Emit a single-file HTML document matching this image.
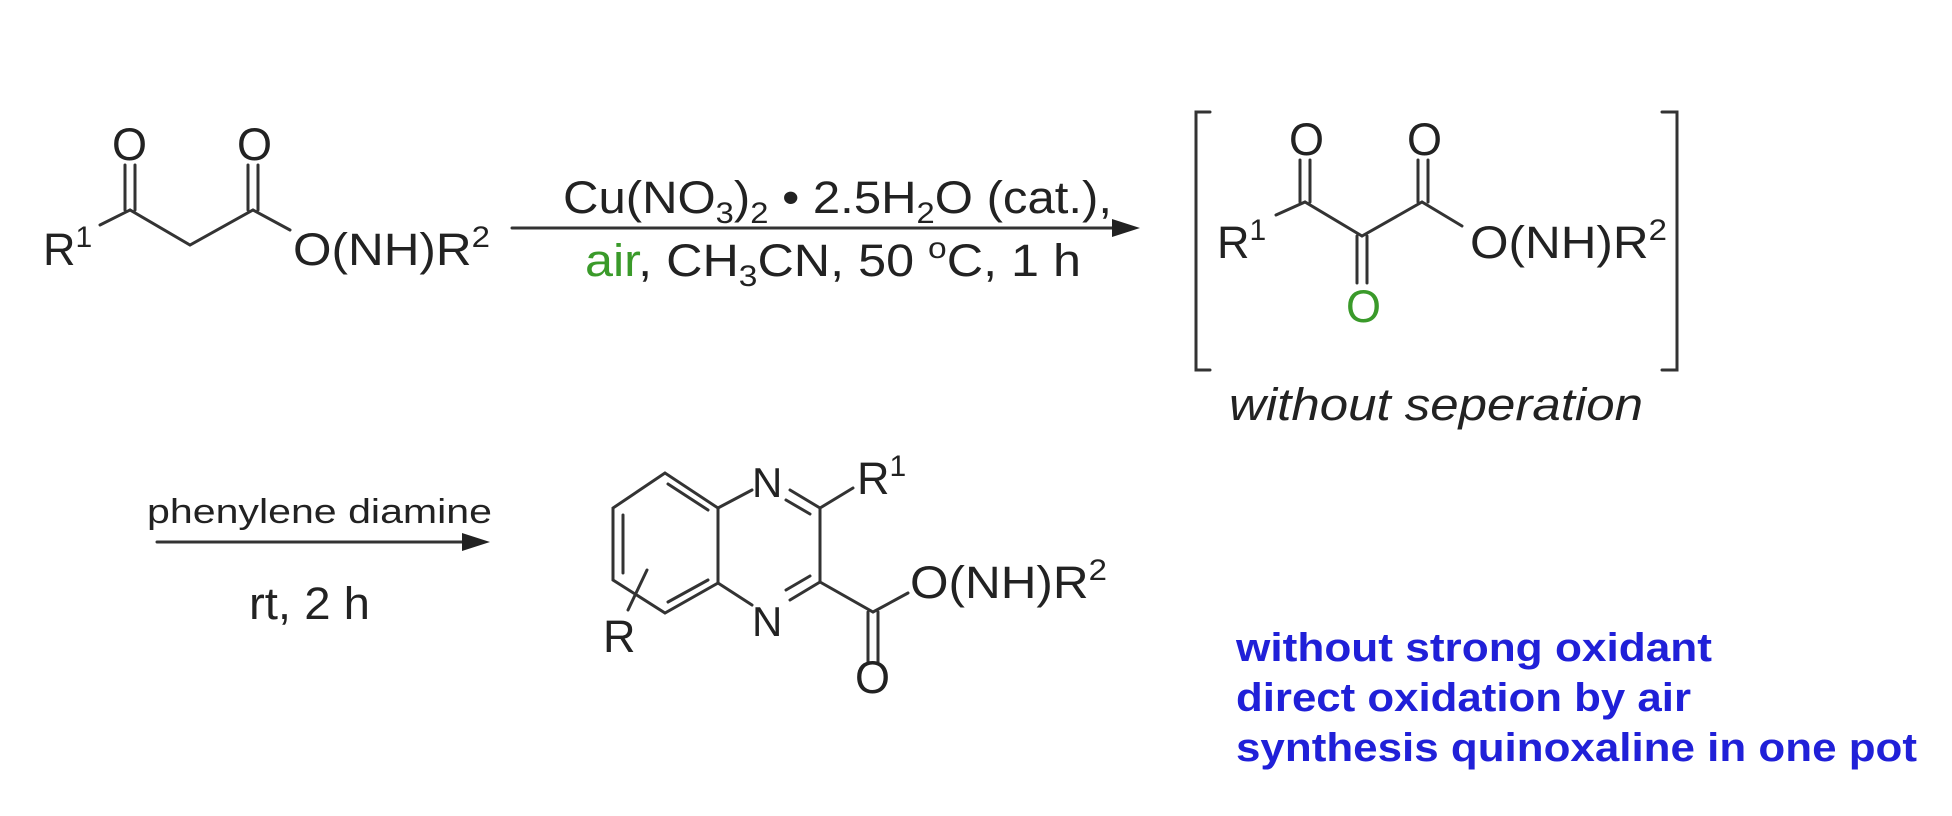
<!DOCTYPE html>
<html><head><meta charset="utf-8"><style>
html,body{margin:0;padding:0;background:#fff;}
svg{display:block;}
text{font-family:"Liberation Sans",Arial,sans-serif;fill:#222;}
</style></head><body>
<svg width="1952" height="816" viewBox="0 0 1952 816" xmlns="http://www.w3.org/2000/svg">
<g stroke="#333" stroke-width="3" fill="none" stroke-linecap="round">
<polyline points="100,225 130,210 190,245 253,210 290,230"/>
<line x1="125" y1="210" x2="125" y2="165"/><line x1="135" y1="210" x2="135" y2="165"/>
<line x1="248" y1="210" x2="248" y2="165"/><line x1="258" y1="210" x2="258" y2="165"/>
<line x1="512" y1="228" x2="1115" y2="228"/>
<polyline points="1210,112 1196,112 1196,370 1210,370"/>
<polyline points="1662,112 1677,112 1677,370 1662,370"/>
<polyline points="1276,215 1305,202 1362,236 1422,202 1462,226"/>
<line x1="1300" y1="202" x2="1300" y2="160"/><line x1="1310" y1="202" x2="1310" y2="160"/>
<line x1="1418" y1="202" x2="1418" y2="160"/><line x1="1428" y1="202" x2="1428" y2="160"/>
<line x1="1357" y1="236" x2="1357" y2="283"/><line x1="1367" y1="236" x2="1367" y2="283"/>
<line x1="157" y1="542" x2="465" y2="542"/>
<polygon points="665,473 613,508 613,580 665,613 718,583 718,508"/>
<line x1="668" y1="484" x2="708" y2="510"/>
<line x1="623" y1="515" x2="623" y2="573"/>
<line x1="668" y1="602" x2="708" y2="580"/>
<line x1="718" y1="508" x2="752" y2="490"/>
<line x1="718" y1="583" x2="752" y2="605"/>
<line x1="790" y1="490" x2="820" y2="508"/>
<line x1="786" y1="500" x2="810" y2="514"/>
<line x1="820" y1="508" x2="820" y2="582"/>
<line x1="790" y1="600" x2="820" y2="582"/>
<line x1="786" y1="590" x2="810" y2="576"/>
<line x1="820" y1="508" x2="853" y2="488"/>
<polyline points="820,582 873,612 908,593"/>
<line x1="868" y1="612" x2="868" y2="663"/><line x1="878" y1="612" x2="878" y2="663"/>
<line x1="628" y1="610" x2="647" y2="570"/>
</g>
<polygon points="1140,228 1112,219 1112,237" fill="#222"/>
<polygon points="490,542 462,533 462,551" fill="#222"/>

<g font-size="45">
<text x="43" y="265">R<tspan font-size="30" dy="-18">1</tspan></text>
<text x="112" y="160">O</text><text x="237" y="160">O</text>
<text x="293" y="265" textLength="197" lengthAdjust="spacingAndGlyphs">O(NH)R<tspan font-size="30" dy="-18">2</tspan></text>

<text x="563" y="213" textLength="549" lengthAdjust="spacingAndGlyphs">Cu(NO<tspan font-size="30" dy="10">3</tspan><tspan dy="-10">)</tspan><tspan font-size="30" dy="10">2</tspan><tspan dy="-10"> • 2.5H</tspan><tspan font-size="30" dy="10">2</tspan><tspan dy="-10">O (cat.),</tspan></text>
<text x="585" y="276" textLength="496" lengthAdjust="spacingAndGlyphs"><tspan style="fill:#3a9a2a">air</tspan>, CH<tspan font-size="30" dy="10">3</tspan><tspan dy="-10">CN, 50 </tspan><tspan font-size="30" dy="-18">o</tspan><tspan dy="18">C, 1 h</tspan></text>

<text x="1217" y="258">R<tspan font-size="30" dy="-18">1</tspan></text>
<text x="1289" y="155">O</text><text x="1407" y="155">O</text>
<text x="1346" y="322" style="fill:#3a9a2a">O</text>
<text x="1470" y="258" textLength="197" lengthAdjust="spacingAndGlyphs">O(NH)R<tspan font-size="30" dy="-18">2</tspan></text>
<text x="1229" y="420" font-style="italic" textLength="414" lengthAdjust="spacingAndGlyphs">without seperation</text>

<text x="147" y="523" font-size="34" textLength="345" lengthAdjust="spacingAndGlyphs">phenylene diamine</text>
<text x="249" y="619" textLength="121" lengthAdjust="spacingAndGlyphs">rt, 2 h</text>

<text x="752" y="497" font-size="42">N</text>
<text x="752" y="636" font-size="42">N</text>
<text x="857" y="494">R<tspan font-size="30" dy="-18">1</tspan></text>
<text x="910" y="598" textLength="197" lengthAdjust="spacingAndGlyphs">O(NH)R<tspan font-size="30" dy="-18">2</tspan></text>
<text x="855" y="693">O</text>
<text x="603" y="652">R</text>
</g>
<g font-size="40" font-weight="bold">
<text x="1236" y="661" style="fill:#2020d8" textLength="476" lengthAdjust="spacingAndGlyphs">without strong oxidant</text>
<text x="1236" y="711" style="fill:#2020d8" textLength="455" lengthAdjust="spacingAndGlyphs">direct oxidation by air</text>
<text x="1236" y="761" style="fill:#2020d8" textLength="681" lengthAdjust="spacingAndGlyphs">synthesis quinoxaline in one pot</text>
</g>
</svg>
</body></html>
